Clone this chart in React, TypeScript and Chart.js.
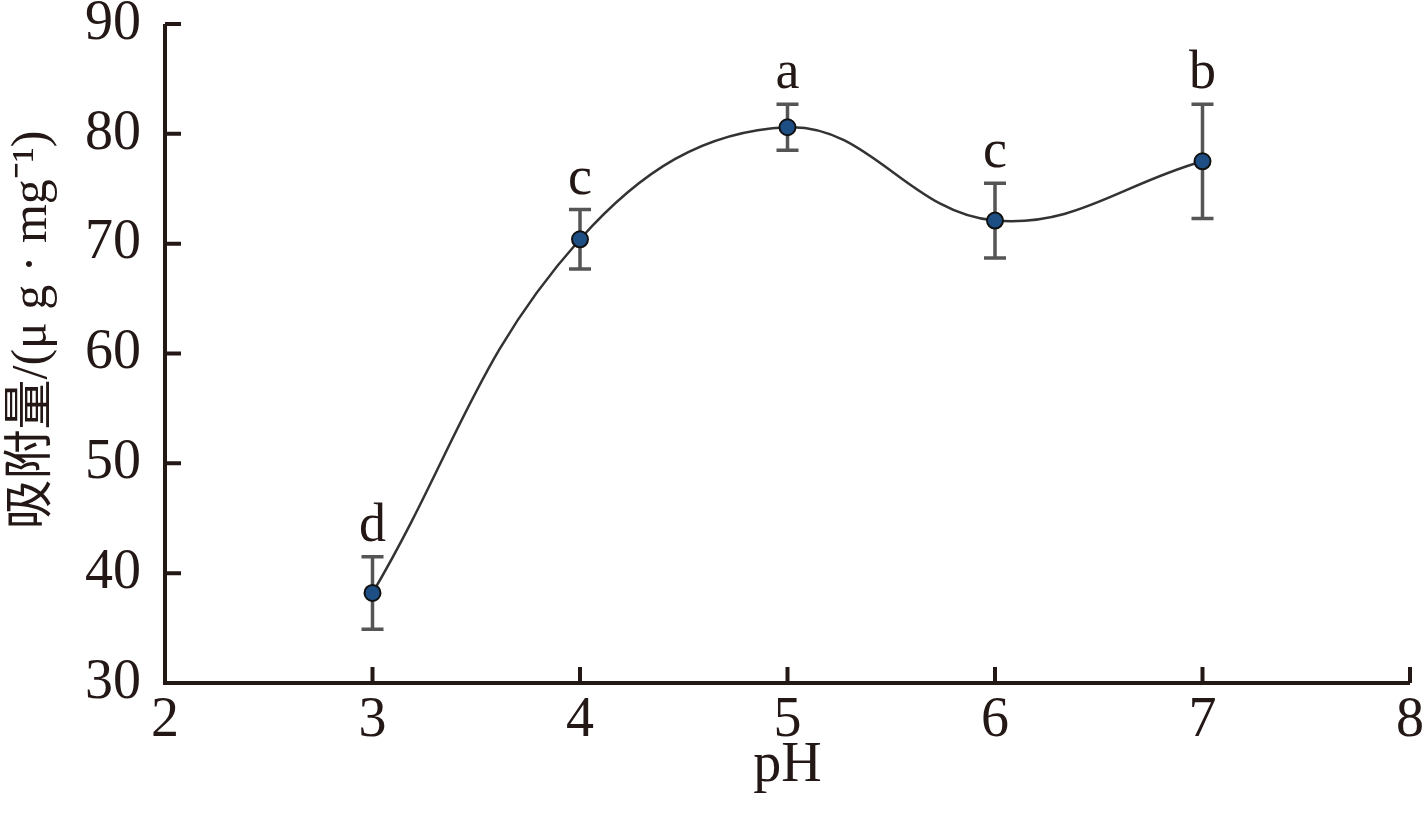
import React, { useEffect, useRef } from "react";
import { Chart, registerables } from "chart.js";

Chart.register(...registerables);

const phValues = [3, 4, 5, 6, 7];
const adsorption = [38.2, 70.4, 80.6, 72.1, 77.5];
const errors = [3.3, 2.7, 2.1, 3.4, 5.2];
const letters = ["d", "c", "a", "c", "b"];
const xTickValues = [2, 3, 4, 5, 6, 7, 8];
const yTickValues = [30, 40, 50, 60, 70, 80, 90];
const xTitle = "pH";
const yTitle = "吸附量/(μ g · mg⁻¹)";

const SERIF = "'Liberation Serif', 'Noto Sans CJK SC', serif";
const AXIS_COLOR = "#231815";

const decorPlugin = {
  id: "decor",
  beforeDatasetsDraw(chart: any) {
    const { ctx } = chart;
    const xs = chart.scales.x;
    const ys = chart.scales.y;
    ctx.save();
    ctx.strokeStyle = "#555555";
    ctx.lineWidth = 3.5;
    phValues.forEach((p, i) => {
      const x = xs.getPixelForValue(p);
      const yt = ys.getPixelForValue(adsorption[i] + errors[i]);
      const yb = ys.getPixelForValue(adsorption[i] - errors[i]);
      ctx.beginPath();
      ctx.moveTo(x, yt);
      ctx.lineTo(x, yb);
      ctx.moveTo(x - 11, yt);
      ctx.lineTo(x + 11, yt);
      ctx.moveTo(x - 11, yb);
      ctx.lineTo(x + 11, yb);
      ctx.stroke();
    });
    ctx.restore();
  },
  afterDatasetsDraw(chart: any) {
    const { ctx, chartArea } = chart;
    const xs = chart.scales.x;
    const ys = chart.scales.y;
    ctx.save();
    // letters
    ctx.fillStyle = AXIS_COLOR;
    ctx.font = `54px ${SERIF}`;
    ctx.textAlign = "center";
    ctx.textBaseline = "alphabetic";
    phValues.forEach((p, i) => {
      const x = xs.getPixelForValue(p);
      const yt = ys.getPixelForValue(adsorption[i] + errors[i]);
      ctx.fillText(letters[i], x, yt - 16);
    });
    // axis titles
    ctx.font = `56px ${SERIF}`;
    ctx.textBaseline = "middle";
    ctx.fillText(xTitle, (chartArea.left + chartArea.right) / 2, 766);
    ctx.save();
    ctx.translate(33, 330);
    ctx.rotate(-Math.PI / 2);
    ctx.font = `50px ${SERIF}`;
    ctx.fillText(yTitle, 0, 0);
    ctx.restore();
    // axes
    ctx.strokeStyle = AXIS_COLOR;
    ctx.lineWidth = 4;
    ctx.beginPath();
    ctx.moveTo(chartArea.left, chartArea.top);
    ctx.lineTo(chartArea.left, chartArea.bottom);
    ctx.lineTo(chartArea.right, chartArea.bottom);
    ctx.stroke();
    const tl = 16;
    ctx.beginPath();
    xTickValues.forEach((v) => {
      const x = xs.getPixelForValue(v);
      ctx.moveTo(x, chartArea.bottom);
      ctx.lineTo(x, chartArea.bottom - tl);
    });
    yTickValues.forEach((v) => {
      const y = ys.getPixelForValue(v);
      ctx.moveTo(chartArea.left, y);
      ctx.lineTo(chartArea.left + tl, y);
    });
    ctx.stroke();
    ctx.restore();
  },
};

export default function App() {
  const ref = useRef<HTMLCanvasElement>(null);
  useEffect(() => {
    if (!ref.current) return;
    const chart = new Chart(ref.current, {
      type: "line",
      data: {
        datasets: [
          {
            data: phValues.map((p, i) => ({ x: p, y: adsorption[i] })),
            borderColor: "#333333",
            borderWidth: 2.5,
            tension: 0.4,
            pointRadius: 8,
            pointBackgroundColor: "#1d4f85",
            pointBorderColor: "#111111",
            pointBorderWidth: 2,
          },
        ],
      },
      options: {
        responsive: false,
        animation: false,
        layout: { padding: { top: 24, right: 13, left: 0, bottom: 0 } },
        plugins: { legend: { display: false }, tooltip: { enabled: false } },
        scales: {
          x: {
            type: "linear",
            min: 2,
            max: 8,
            afterBuildTicks: (s: any) => {
              s.ticks = xTickValues.map((v) => ({ value: v }));
            },
            afterFit: (s: any) => {
              s.height = 130;
              s.paddingLeft = 0;
              s.paddingRight = 0;
            },
            grid: { display: false, drawTicks: false },
            border: { display: false },
            ticks: {
              color: AXIS_COLOR,
              font: { family: SERIF, size: 56 },
              padding: 5,
            },
          },
          y: {
            type: "linear",
            min: 30,
            max: 90,
            afterBuildTicks: (s: any) => {
              s.ticks = yTickValues.map((v) => ({ value: v }));
            },
            afterFit: (s: any) => {
              s.width = 165;
              s.paddingTop = 0;
              s.paddingBottom = 0;
            },
            grid: { display: false, drawTicks: false },
            border: { display: false },
            ticks: {
              color: AXIS_COLOR,
              font: { family: SERIF, size: 56 },
              padding: 24,
            },
          },
        },
      },
      plugins: [decorPlugin],
    });
    return () => chart.destroy();
  }, []);
  return (
    <div style={{ position: "fixed", left: 0, top: 0, width: 1423, height: 813, background: "#fff" }}>
      <canvas ref={ref} width={1423} height={813} style={{ width: 1423, height: 813, display: "block" }} />
    </div>
  );
}
